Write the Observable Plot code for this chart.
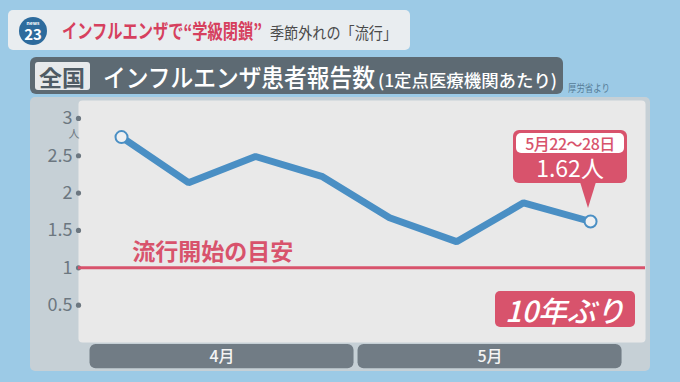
<!DOCTYPE html>
<html><head><meta charset="utf-8">
<script src="https://cdn.jsdelivr.net/npm/d3@7"></script>
<script src="https://cdn.jsdelivr.net/npm/@observablehq/plot@0.6"></script>
<style>
body{margin:0;background:#9ccae6;font-family:"Noto Sans CJK JP","Noto Sans",sans-serif;}
#root{position:relative;width:680px;height:382px;overflow:hidden;background:#9ccae6;}
.abs{position:absolute;}
.fit{position:absolute;white-space:nowrap;transform-origin:0 50%;line-height:1;}
#topbar{left:8px;top:10px;width:402px;height:40px;background:#e9edf0;border-radius:5px;}
#logo{left:19px;top:17px;width:28px;height:28px;border-radius:50%;background:#2d6b9d;color:#fff;text-align:center;}
#head{left:30px;top:57px;width:533px;height:37px;background:#5d6a73;border-radius:6px;}
#zen{left:35px;top:62px;width:55px;height:28px;background:#e7e9eb;border-radius:3px;}
#panel{left:30px;top:97px;width:620px;height:274px;background:#c6d0d6;border-radius:5px;}
#chart{position:absolute;left:0;top:0;}
</style></head><body><div id="root">
<div id="topbar" class="abs"></div>
<div id="logo" class="abs"><div style="font-size:5px;font-weight:bold;margin-top:3px;line-height:5px;">news</div><div style="font-size:15px;font-weight:bold;line-height:17px;">23</div></div>
<div class="fit" data-x="62" data-y="31" data-w="200" style="font-size:20px;font-weight:bold;color:#d6405e;">インフルエンザで“学級閉鎖”</div>
<div class="fit" data-x="270" data-y="32" data-w="127" style="font-size:16px;color:#4a4a4a;">季節外れの「流行」</div>
<div id="head" class="abs"></div>
<div id="zen" class="abs"></div>
<div class="fit" data-x="39" data-y="76" data-w="46" style="font-size:22px;font-weight:bold;color:#4f5b64;">全国</div>
<div class="fit" data-x="103" data-y="76" data-w="272" style="font-size:25px;font-weight:500;color:#fff;">インフルエンザ患者報告数</div>
<div class="fit" data-x="378" data-y="79" data-w="179" style="font-size:17px;font-weight:500;color:#fff;">(1定点医療機関あたり)</div>
<div class="fit" data-x="568" data-y="88" data-w="42" style="font-size:10px;color:#557c97;">厚労省より</div>
<div id="panel" class="abs"></div>
<div id="chart"></div>
</div>
<script>
const weeks = ["4月3〜9日","4月10〜16日","4月17〜23日","4月24〜30日","5月1〜7日","5月8〜14日","5月15〜21日","5月22〜28日"];
const values = [2.75, 2.14, 2.49, 2.22, 1.67, 1.35, 1.87, 1.62];
const yTicks = [0.5, 1, 1.5, 2, 2.5, 3];
const months = ["4月", "5月"];
const monthStartWeek = [-0.5, 3.5];
const monthEndWeek = [3.5, 7.5];
const threshold = 1;
const thresholdLabel = "流行開始の目安";
const badgeText = "10年ぶり";

const data = weeks.map((w, i) => ({i, week: w, value: values[i]}));
const monthData = months.map((m, k) => ({m, s: monthStartWeek[k], e: monthEndWeek[k]}));
const blue = "#4a8fc4", red = "#d8536c";

const chart = Plot.plot({
  width: 680, height: 382,
  marginLeft: 78, marginRight: 35, marginTop: 100, marginBottom: 40,
  x: {domain: [-0.642, 7.82], axis: null},
  y: {domain: [0, 3.24], axis: null},
  style: {background: "transparent", fontFamily: '"Noto Sans CJK JP","Noto Sans",sans-serif', overflow: "visible"},
  marks: [
    Plot.frame({fill: "#e9e9e9", stroke: "none", rx: 4}),
    Plot.rect(monthData, {x1: "s", x2: "e", y1: -0.027, y2: -0.35, fill: "#717c85", rx: 6, insetLeft: 2, insetRight: 2}),
    Plot.text(monthData, {x: d => (d.s + d.e) / 2, y: -0.19, text: "m", fill: "#f4f4f4", fontSize: 16, fontWeight: 500}),
    Plot.axisY({ticks: yTicks, tickSize: 0, tickPadding: 6, fontSize: 18, color: "#6c7780", label: null, tickFormat: d => String(d)}),
    Plot.dot(yTicks, {y: d => d, frameAnchor: "left", r: 2.6, fill: "#6c7780", stroke: "none"}),
    Plot.text([yTicks[yTicks.length - 1]], {y: d => d, frameAnchor: "left", dx: -10, dy: 16, text: () => "人", fontSize: 11, fill: "#6c7780"}),
    Plot.ruleY([threshold], {stroke: red, strokeWidth: 3}),
    Plot.text([thresholdLabel], {x: 0.16, y: 1.205, text: d => d, textAnchor: "start", fill: red, fontSize: 23, fontWeight: "bold"}),
    Plot.line(data, {x: "i", y: "value", stroke: blue, strokeWidth: 7, strokeLinejoin: "miter"}),
    Plot.dot([data[0], data[data.length - 1]], {x: "i", y: "value", r: 6, fill: "#eef0f2", stroke: blue, strokeWidth: 2})
  ]
});
document.getElementById("chart").appendChild(chart);

// callout anchored to last point via scales
const last = data[data.length - 1];
const px = chart.scale("x").apply(last.i), py = chart.scale("y").apply(last.value);
const root = document.getElementById("root");
const co = document.createElement("div");
co.className = "abs";
co.style.cssText = `left:${px - 77}px;top:${py - 91}px;width:114px;height:53px;background:${red};border-radius:6px;text-align:center;`;
co.innerHTML = `<div style="margin:3px 3px 0 3px;height:20px;background:#fff;border-radius:5px;color:${red};font-size:16px;line-height:20px;font-weight:500;letter-spacing:-0.5px;">${last.week}</div>
<div style="color:#fff;font-size:23px;line-height:29px;font-weight:400;">${last.value.toFixed(2)}人</div>`;
root.appendChild(co);
const tri = document.createElement("div");
tri.className = "abs";
tri.style.cssText = `left:${px - 10}px;top:${py - 39}px;width:0;height:0;border-left:8px solid transparent;border-right:8px solid transparent;border-top:26px solid ${red};`;
root.appendChild(tri);

// badge
const b = document.createElement("div");
b.className = "abs";
b.style.cssText = `left:495px;top:291px;width:140px;height:36px;background:${red};border-radius:5px;color:#fff;font-size:29px;line-height:36px;text-align:center;font-style:italic;font-weight:500;`;
b.textContent = badgeText;
root.appendChild(b);

// fit header texts to measured widths
document.querySelectorAll(".fit").forEach(el => {
  const w = el.getBoundingClientRect().width, h = el.getBoundingClientRect().height;
  const target = +el.dataset.w;
  el.style.left = el.dataset.x + "px";
  el.style.top = (+el.dataset.y - h / 2) + "px";
  el.style.transform = `scaleX(${target / w})`;
});
</script>
</body></html>
